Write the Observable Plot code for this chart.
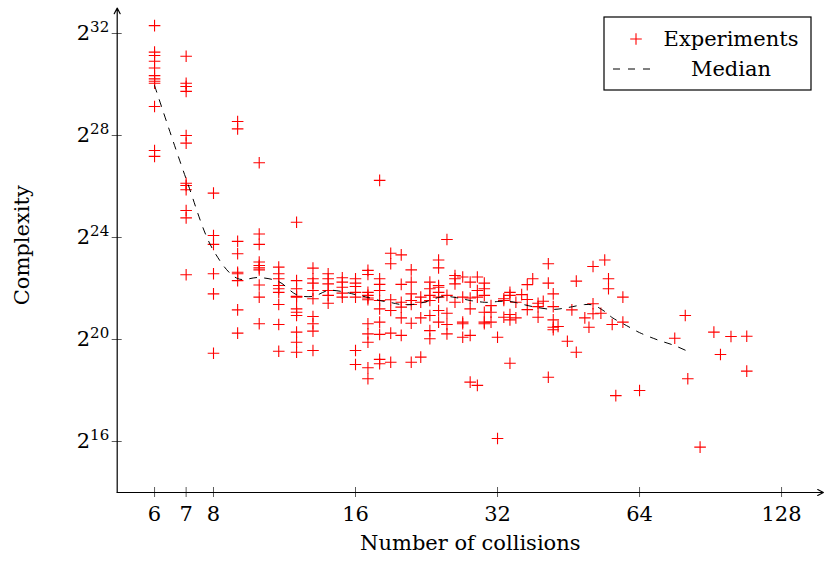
<!DOCTYPE html>
<html><head><meta charset="utf-8">
<script src="https://cdn.jsdelivr.net/npm/d3@7"></script>
<script src="https://cdn.jsdelivr.net/npm/@observablehq/plot@0.6"></script>
<style>
html,body{margin:0;padding:0;background:#fff;}
#chart{width:825px;height:562px;}
#chart svg text{font-family:"DejaVu Serif",serif;}
</style></head><body><div id="chart"></div>
<script>
// Experiments: [number of collisions, log2(complexity) values]
const experiments = [
 [6, [32.31, 31.27, 31.14, 30.91, 30.65, 30.35, 30.22, 30.13, 30.05, 29.14, 27.41, 27.18]],
 [7, [31.11, 30.05, 29.92, 29.73, 28.0, 27.70, 26.13, 26.04, 25.87, 25.06, 24.77, 22.54]],
 [8, [25.74, 24.08, 23.73, 22.58, 21.79, 19.46]],
 [9, [28.55, 28.26, 23.85, 23.36, 22.64, 22.58, 22.31, 21.16, 20.25]],
 [10, [26.93, 24.14, 23.73, 23.04, 22.9, 22.81, 22.73, 22.14, 21.66, 20.62]],
 [11, [22.84, 22.58, 22.38, 22.12, 21.99, 21.85, 21.37, 20.59, 19.54]],
 [12, [24.6, 22.31, 21.99, 21.69, 21.66, 21.2, 21.07, 20.94, 20.29, 19.89, 19.5]],
 [13, [22.8, 22.38, 22.21, 21.92, 21.6, 20.9, 20.62, 20.33, 19.57]],
 [14, [22.58, 22.38, 22.18, 21.92, 21.73, 21.42]],
 [15, [22.42, 22.25, 22.05, 21.82, 21.66]],
 [16, [22.38, 22.21, 22.08, 21.85, 21.66, 19.57, 19.02]],
 [17, [22.71, 22.55, 21.85, 21.73, 21.63, 21.56, 20.62, 20.22, 19.89, 18.89, 18.46]],
 [18, [26.24, 22.38, 22.16, 21.92, 21.53, 21.2, 20.68, 20.2, 19.22, 19.05]],
 [19, [23.38, 22.97, 21.56, 21.14, 20.25, 19.11]],
 [20, [23.32, 22.16, 21.46, 21.27, 20.85, 20.16]],
 [21, [22.73, 22.25, 21.79, 21.53, 21.37, 20.64, 19.11]],
 [22, [21.66, 21.46, 20.85, 19.31]],
 [23, [22.25, 21.99, 21.73, 21.53, 20.94, 20.35, 20.03]],
 [24, [23.12, 22.81, 22.12, 22.05, 21.85, 21.66, 21.14, 20.68]],
 [25, [23.92, 21.73, 21.03, 20.59, 20.22]],
 [26, [22.51, 22.38, 22.18, 21.46]],
 [27, [22.45, 21.66, 20.68, 20.62, 20.09]],
 [28, [22.25, 21.63, 21.2, 20.16, 18.33]],
 [29, [22.45, 21.92, 21.66, 18.2]],
 [30, [22.21, 21.99, 21.73, 21.07, 20.68, 20.62]],
 [31, [21.33, 21.07, 20.68]],
 [32, [20.09, 16.12]],
 [33, [21.6, 21.53, 20.87]],
 [34, [21.85, 21.73, 20.98, 20.77, 19.07]],
 [35, [21.46, 20.85]],
 [36, [21.76]],
 [37, [22.15, 21.57, 21.17]],
 [38, [22.38]],
 [39, [21.42, 21.29, 20.87]],
 [40, [21.5]],
 [41, [22.97, 22.21, 18.52]],
 [42, [21.79, 21.29, 20.77, 20.48, 20.38]],
 [43, [20.51]],
 [45, [19.93]],
 [46, [21.16]],
 [47, [22.29, 19.5]],
 [49, [20.85]],
 [50, [20.48]],
 [51, [22.86, 21.4, 21.01]],
 [53, [21.03]],
 [54, [23.12]],
 [55, [22.38, 21.99]],
 [56, [20.59]],
 [57, [17.8]],
 [59, [21.66, 20.68]],
 [64, [18.0]],
 [76, [20.05]],
 [80, [20.94]],
 [81, [18.46]],
 [86, [15.78]],
 [92, [20.29]],
 [95, [19.41]],
 [100, [20.12]],
 [108, [20.13, 18.76]]
];

const medianCollisions = [6, 7, 8, 9, 10, 11, 12, 13, 14, 15, 16, 17, 18, 19, 20, 21, 22, 23, 24, 25, 26, 27, 28, 29, 30, 31, 32, 33, 34, 35, 36, 38, 42, 45, 49, 51, 54, 56, 60, 64, 70, 76, 82];
const medianLog2 = [29.96, 26.3, 23.49, 22.39, 22.43, 22.27, 21.76, 21.69, 21.92, 21.88, 21.76, 21.65, 21.53, 21.45, 21.37, 21.37, 21.43, 21.53, 21.65, 21.69, 21.65, 21.59, 21.53, 21.49, 21.46, 21.46, 21.49, 21.5, 21.49, 21.45, 21.39, 21.29, 21.18, 21.25, 21.37, 21.35, 21.1, 20.86, 20.55, 20.27, 19.98, 19.76, 19.49];

const xTicks = [6, 7, 8, 16, 32, 64, 128];
const yTickExponents = [16, 20, 24, 28, 32];
const xDomain = [5, 157];
const yDomainExponents = [14, 33];

const legendLabels = ["Experiments", "Median"];
const xLabel = "Number of collisions";
const yLabel = "Complexity";

// ---- build tables ----
const points = experiments.flatMap(([n, es]) => es.map(e => ({n, c: 2 ** e})));
const median = medianCollisions.map((n, i) => ({n, c: 2 ** medianLog2[i]}));
const yTicks = yTickExponents.map(e => 2 ** e);
const yDomain = yDomainExponents.map(e => 2 ** e);

const plusSymbol = {
  draw(ctx, size) {
    const r = Math.sqrt(size / Math.PI);
    ctx.moveTo(-r, 0); ctx.lineTo(r, 0);
    ctx.moveTo(0, -r); ctx.lineTo(0, r);
  }
};

const FONT = "DejaVu Serif";
const plot = Plot.plot({
  width: 825, height: 562,
  marginLeft: 116.7, marginRight: 2.1, marginTop: 7.5, marginBottom: 70,
  x: {type: "log", base: 2, domain: xDomain},
  y: {type: "log", base: 2, domain: yDomain},
  style: {fontFamily: FONT, fontSize: "21px", background: "white", color: "black", overflow: "visible"},
  marks: [
    // tick marks centred on axis lines
    Plot.ruleX(xTicks, {x: d => d, y1: yDomain[0], y2: yDomain[0], insetTop: -5, insetBottom: -5, stroke: "#333", strokeWidth: 0.8}),
    Plot.ruleY(yTicks, {y: d => d, x1: xDomain[0], x2: xDomain[0], insetLeft: -5, insetRight: -5, stroke: "#333", strokeWidth: 0.8}),
    // axis lines with arrows
    Plot.arrow([0], {x1: xDomain[0], y1: yDomain[0], x2: xDomain[1], y2: yDomain[0], stroke: "black", strokeWidth: 1.2, headLength: 8, headAngle: 55}),
    Plot.arrow([0], {x1: xDomain[0], y1: yDomain[0], x2: xDomain[0], y2: yDomain[1], stroke: "black", strokeWidth: 1.2, headLength: 8, headAngle: 55}),
    Plot.axisX(xTicks, {tickSize: 0, tickPadding: 14, tickFormat: d => String(d), fontSize: 21, label: null}),
    Plot.axisY(yTicks, {tickSize: 0, tickPadding: 8, tickFormat: d => "2^" + Math.round(Math.log2(d)), fontSize: 21, label: null}),
    Plot.dot(points, {x: "n", y: "c", symbol: plusSymbol, r: 5.8, stroke: "#ff0000", strokeWidth: 1.1, fill: "none"}),
    Plot.line(median, {x: "n", y: "c", stroke: "black", strokeWidth: 1, strokeDasharray: "7,8", curve: "catmull-rom"}),
    Plot.text([xLabel], {frameAnchor: "bottom", dy: 57, fontSize: 21, fill: "black"}),
    Plot.text([yLabel], {frameAnchor: "left", textAnchor: "middle", rotate: -90, dx: -95, dy: -5, fontSize: 21, fill: "black"})
  ]
});

document.getElementById("chart").appendChild(plot);

// superscripts on y tick labels
const svg = d3.select(plot);
svg.selectAll('g[aria-label="y-axis tick label"] text').each(function () {
  const t = d3.select(this);
  const s = t.text();
  if (!s.includes("^")) return;
  const [b, e] = s.split("^");
  t.text(null);
  t.append("tspan").text(b);
  t.append("tspan").attr("font-size", "15px").attr("dy", "-0.55em").text(e);
});

// legend
const lg = svg.append("g").attr("font-family", FONT).attr("font-size", 21);
lg.append("rect").attr("x", 604).attr("y", 17).attr("width", 207).attr("height", 73)
  .attr("fill", "white").attr("stroke", "black").attr("stroke-width", 1.2);
lg.append("path").attr("d", d3.symbol(plusSymbol, Math.PI * 5.8 * 5.8)())
  .attr("transform", "translate(636,39)").attr("stroke", "#ff0000").attr("stroke-width", 1.1).attr("fill", "none");
lg.append("text").attr("x", 731).attr("y", 39).attr("dy", "0.35em").attr("text-anchor", "middle").text(legendLabels[0]);
lg.append("line").attr("x1", 613).attr("x2", 654).attr("y1", 69).attr("y2", 69)
  .attr("stroke", "black").attr("stroke-width", 1).attr("stroke-dasharray", "7,8");
lg.append("text").attr("x", 731).attr("y", 69).attr("dy", "0.35em").attr("text-anchor", "middle").text(legendLabels[1]);
</script></body></html>
